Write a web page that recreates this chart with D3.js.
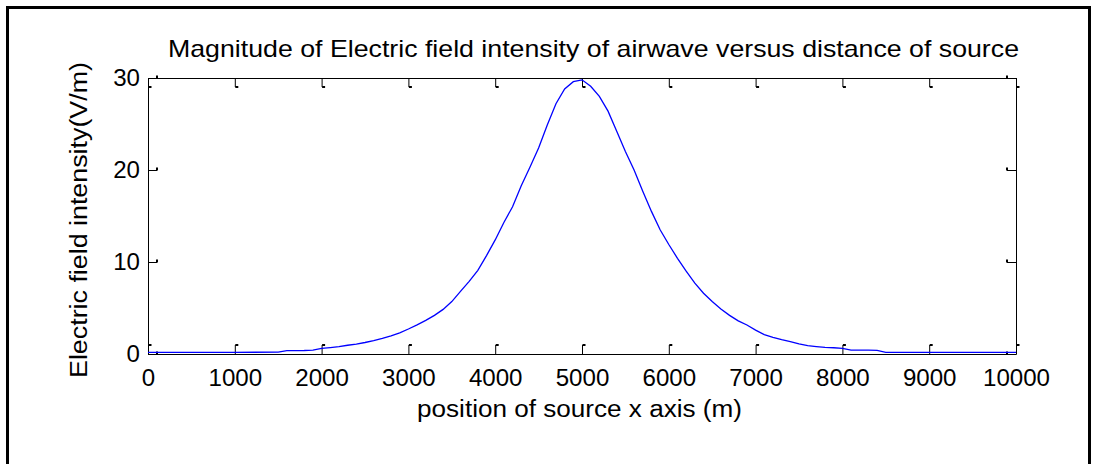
<!DOCTYPE html>
<html>
<head>
<meta charset="utf-8">
<script src="https://cdn.jsdelivr.net/npm/d3@7"></script>
<style>
  body { margin: 0; background: #fff; }
  text { font-family: "Liberation Sans", Arial, sans-serif; fill: #000; }
  .axis path, .axis line { stroke: #000; }
</style>
</head>
<body>
<div id="chart"></div>
<script>
// distance of source (m) and field magnitude (V/m)
const distance = [0, 500, 1000, 1500,
  1600, 1700, 1800, 1900, 2000, 2100, 2200, 2300, 2400, 2500,
  2600, 2700, 2800, 2900, 3000, 3100, 3200, 3300, 3400, 3500,
  3600, 3700, 3800, 3900, 4000, 4100, 4200, 4300, 4400, 4500,
  4600, 4700, 4800, 4900, 5000, 5100, 5200, 5300, 5400, 5500,
  5600, 5700, 5800, 5900, 6000, 6100, 6200, 6300, 6400, 6500,
  6600, 6700, 6800, 6900, 7000, 7100, 7200, 7300, 7400, 7500,
  7600, 7700, 7800, 7900, 8000, 8100, 8200, 8300, 8400, 8500,
  9000, 9500, 10000];
const intensity = [0.18, 0.18, 0.18, 0.2,
  0.36, 0.37, 0.38, 0.42, 0.62, 0.7, 0.8, 0.95, 1.08, 1.25,
  1.45, 1.7, 1.98, 2.3, 2.72, 3.17, 3.65, 4.2, 4.85, 5.7,
  6.8, 7.9, 9.1, 10.7, 12.4, 14.3, 16.0, 18.3, 20.3, 22.4,
  24.9, 27.2, 28.8, 29.6, 29.8, 29.1, 28.0, 26.4, 24.2, 22.0,
  20.0, 17.7, 15.5, 13.5, 11.9, 10.4, 9.0, 7.7, 6.6, 5.7,
  4.9, 4.2, 3.6, 3.15, 2.6, 2.1, 1.8, 1.55, 1.35, 1.1,
  0.9, 0.8, 0.72, 0.68, 0.62, 0.43, 0.42, 0.42, 0.4, 0.18,
  0.18, 0.18, 0.18];

const xTicks = [0, 1000, 2000, 3000, 4000, 5000, 6000, 7000, 8000, 9000, 10000];
const yTicks = [0, 10, 20, 30];

const titleText = "Magnitude of Electric field intensity of airwave versus distance of source";
const xLabelText = "position of source x axis (m)";
const yLabelText = "Electric field intensity(V/m)";

const W = 1097, H = 464;
const margin = { top: 78, right: 81, bottom: 110, left: 148 },
      width = W - margin.left - margin.right,
      height = H - margin.top - margin.bottom;

const root = d3.select("#chart").append("svg")
  .attr("width", W)
  .attr("height", H);

// outer figure frame (bottom edge runs off the picture)
root.append("rect")
  .attr("x", 7.5).attr("y", 7.5)
  .attr("width", 1082).attr("height", 480)
  .attr("fill", "none")
  .attr("stroke", "#000")
  .attr("stroke-width", 3);

const svg = root.append("g")
  .attr("transform", `translate(${margin.left},${margin.top})`);

const x = d3.scaleLinear().domain([0, 10000]).range([0, width]);
const y = d3.scaleLinear().domain([0, 30]).range([height, 0]);

const digitW = 13.4;
const tick = 9;
const fmt = d3.format("d");

// bottom axis
const gx = svg.append("g")
  .attr("class", "axis")
  .attr("transform", `translate(0,${height})`)
  .call(d3.axisBottom(x).tickValues(xTicks).tickFormat(fmt)
    .tickSizeInner(-tick).tickSizeOuter(0).tickPadding(16));
gx.selectAll("text")
  .attr("font-size", 23)
  .attr("textLength", d => fmt(d).length * digitW)
  .attr("lengthAdjust", "spacingAndGlyphs");
gx.selectAll(".tick").append("line")
  .attr("x1", 0).attr("x2", 3).attr("y1", -tick).attr("y2", -tick)
  .attr("stroke", "#000").attr("stroke-width", 2);

// top axis
const gt = svg.append("g")
  .attr("class", "axis")
  .call(d3.axisTop(x).tickValues(xTicks).tickSizeInner(-tick).tickSizeOuter(0).tickFormat(""));
gt.selectAll(".tick").append("line")
  .attr("x1", 0).attr("x2", 3).attr("y1", tick).attr("y2", tick)
  .attr("stroke", "#000").attr("stroke-width", 2);

// left axis
const gy = svg.append("g")
  .attr("class", "axis")
  .call(d3.axisLeft(y).tickValues(yTicks).tickFormat(fmt)
    .tickSizeInner(-tick).tickSizeOuter(0).tickPadding(8));
gy.selectAll("text")
  .attr("font-size", 23)
  .attr("textLength", d => fmt(d).length * digitW)
  .attr("lengthAdjust", "spacingAndGlyphs");
gy.selectAll(".tick").append("line")
  .attr("x1", tick).attr("x2", tick).attr("y1", 0).attr("y2", -3)
  .attr("stroke", "#000").attr("stroke-width", 2);

// right axis
const gr = svg.append("g")
  .attr("class", "axis")
  .attr("transform", `translate(${width},0)`)
  .call(d3.axisRight(y).tickValues(yTicks).tickSizeInner(-tick).tickSizeOuter(0).tickFormat(""));
gr.selectAll(".tick").append("line")
  .attr("x1", -tick).attr("x2", -tick).attr("y1", 0).attr("y2", -3)
  .attr("stroke", "#000").attr("stroke-width", 2);

// the curve
const line = d3.line()
  .x((d, i) => x(distance[i]))
  .y(d => y(d));

svg.append("path")
  .datum(intensity)
  .attr("fill", "none")
  .attr("stroke", "#0000ff")
  .attr("stroke-width", 1.3)
  .attr("d", line);

// title
root.append("text")
  .attr("x", 168)
  .attr("y", 57)
  .attr("font-size", 24)
  .attr("textLength", 851)
  .attr("lengthAdjust", "spacingAndGlyphs")
  .text(titleText);

// x label
root.append("text")
  .attr("x", 417)
  .attr("y", 417)
  .attr("font-size", 23)
  .attr("textLength", 325)
  .attr("lengthAdjust", "spacingAndGlyphs")
  .text(xLabelText);

// y label
root.append("text")
  .attr("transform", "translate(87,378) rotate(-90)")
  .attr("font-size", 23)
  .attr("textLength", 316)
  .attr("lengthAdjust", "spacingAndGlyphs")
  .text(yLabelText);
</script>
</body>
</html>
